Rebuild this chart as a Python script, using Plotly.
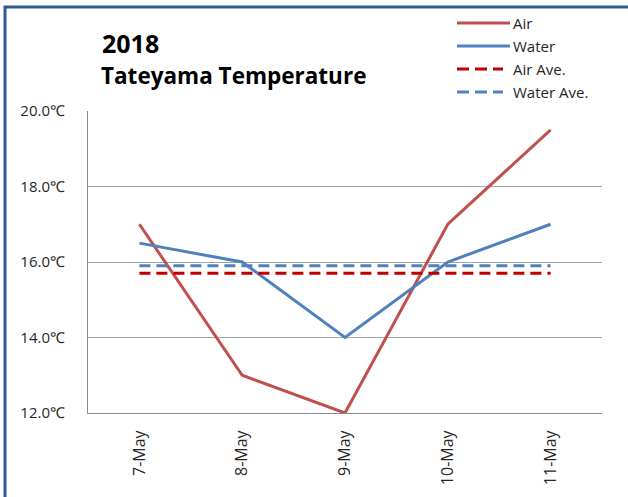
import plotly.graph_objects as go

dates = ["7-May", "8-May", "9-May", "10-May", "11-May"]
air = [17, 13, 12, 17, 19.5]
water = [16.5, 16, 14, 16, 17]
air_ave = [15.7, 15.7, 15.7, 15.7, 15.7]
water_ave = [15.9, 15.9, 15.9, 15.9, 15.9]
y_ticks = [12, 14, 16, 18, 20]
y_tick_labels = ["12.0℃", "14.0℃", "16.0℃", "18.0℃", "20.0℃"]
series_names = ["Air", "Water", "Air Ave.", "Water Ave."]

W, H = 628, 497
L, R, T, B = 88, 602, 111, 413

def px(x):
    return (x - L) / (R - L)

def py(y):
    return (B - y) / (B - T)

AIR_C = "#C0504D"
WATER_C = "#4F81BD"
AIRAVE_C = "#C00000"
DASH = "11px,6px"

fig = go.Figure()
fig.add_trace(go.Scatter(x=dates, y=air, mode="lines", name=series_names[0],
                         line=dict(color=AIR_C, width=3), cliponaxis=False))
fig.add_trace(go.Scatter(x=dates, y=water, mode="lines", name=series_names[1],
                         line=dict(color=WATER_C, width=3), cliponaxis=False))
fig.add_trace(go.Scatter(x=dates, y=air_ave, mode="lines", name=series_names[2],
                         line=dict(color=AIRAVE_C, width=3, dash=DASH)))
fig.add_trace(go.Scatter(x=dates, y=water_ave, mode="lines", name=series_names[3],
                         line=dict(color=WATER_C, width=3, dash=DASH)))

FONT = "Open Sans, Liberation Sans, sans-serif"
xtick_font = dict(family=FONT, size=16, color="#262626")
ytick_font = dict(family=FONT, size=15, color="#262626")

fig.update_layout(
    width=W, height=H,
    margin=dict(l=L, r=W - R, t=T, b=H - B, pad=0),
    paper_bgcolor="white", plot_bgcolor="white",
    showlegend=False,
    xaxis=dict(type="category", range=[-0.5, 4.5], showgrid=False,
               showline=True, linecolor="#8C8C8C", linewidth=1,
               ticks="", tickangle=-90, tickfont=xtick_font,
               ticklabelstandoff=10, zeroline=False, fixedrange=True),
    yaxis=dict(range=[12, 20], tickvals=y_ticks, ticktext=y_tick_labels,
               showgrid=True, gridcolor="#A6A6A6", gridwidth=1,
               showline=True, linecolor="#8C8C8C", linewidth=1,
               ticks="", tickfont=ytick_font, ticklabelstandoff=19,
               zeroline=False, fixedrange=True),
)

shapes = []
# outer frame
shapes.append(dict(type="rect", xref="paper", yref="paper",
                   x0=px(5), x1=px(W + 20), y0=py(H + 20), y1=py(7),
                   line=dict(color="#2E5A96", width=3), fillcolor="rgba(0,0,0,0)",
                   layer="above"))
annotations = []
leg_y = [23, 46, 69, 92]
leg_colors = [AIR_C, WATER_C, AIRAVE_C, WATER_C]
leg_dash = ["solid", "solid", "12px,6px", "12px,6px"]
leg_end = [510, 510, 503, 503]
for name, yy, c, d, xe in zip(series_names, leg_y, leg_colors, leg_dash, leg_end):
    shapes.append(dict(type="line", xref="paper", yref="paper",
                       x0=px(457), x1=px(xe), y0=py(yy), y1=py(yy),
                       line=dict(color=c, width=3, dash=d)))
    annotations.append(dict(text=name, xref="paper", yref="paper",
                            x=px(511), y=py(yy), xanchor="left", yanchor="middle",
                            showarrow=False,
                            font=dict(family=FONT, size=15, color="#262626")))

annotations.append(dict(text="<b>2018</b>", xref="paper", yref="paper",
                        x=px(100), y=py(43), xanchor="left", yanchor="middle",
                        showarrow=False,
                        font=dict(family="Open Sans, sans-serif", size=25, color="black")))
annotations.append(dict(text="<b>Tateyama Temperature</b>", xref="paper", yref="paper",
                        x=px(99), y=py(76), xanchor="left", yanchor="middle",
                        showarrow=False,
                        font=dict(family="Open Sans, sans-serif", size=22.5, color="black")))

fig.update_layout(shapes=shapes, annotations=annotations)
fig.write_html("out.html", config={"displayModeBar": False},
               post_script="document.body.style.margin='0px';")
